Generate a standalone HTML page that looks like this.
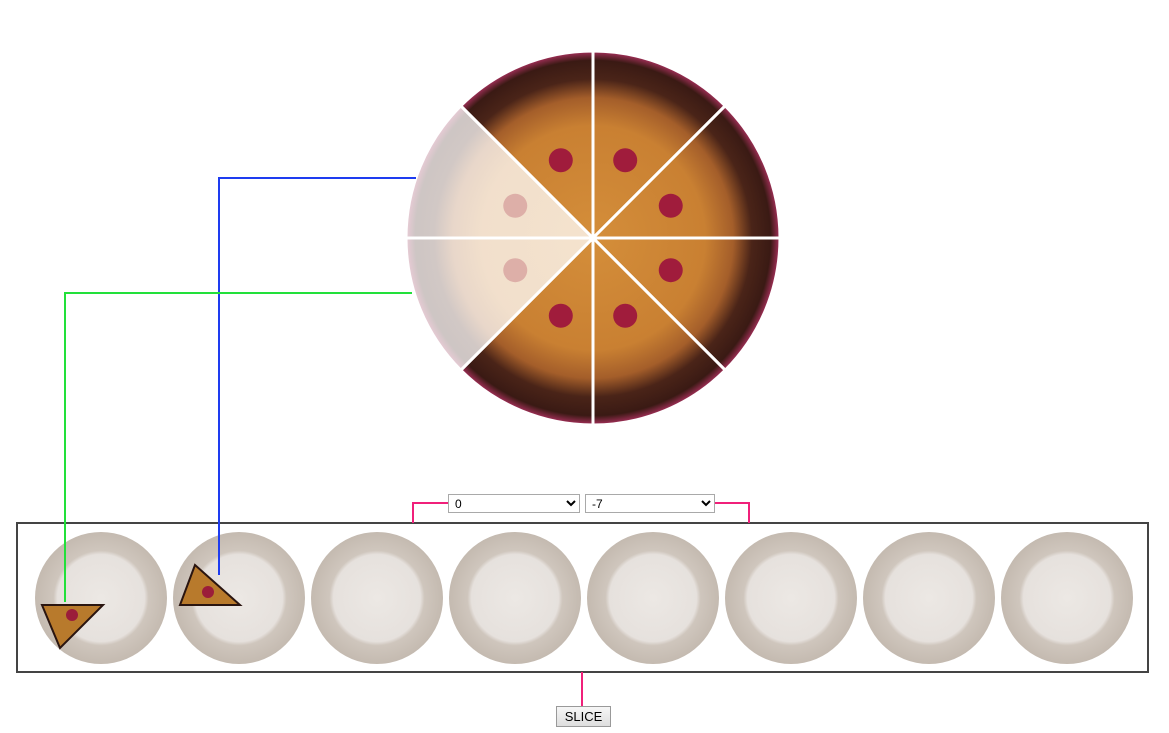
<!DOCTYPE html>
<html><head><meta charset="utf-8"><style>
body{margin:0;background:#fff;width:1169px;height:733px;position:relative;overflow:hidden;font-family:"Liberation Sans",sans-serif}
select{position:absolute;height:19px;font-size:12px;font-family:"Liberation Sans",sans-serif;border:1px solid #a9a9a9;background:#fff;padding:0 2px}
button{position:absolute;left:556px;top:706px;width:55px;height:21px;font-size:13px;font-family:"Liberation Sans",sans-serif;border:1px solid #999;background:linear-gradient(#f6f6f6,#dedede);padding:0}
</style></head><body>
<svg width="1169" height="733" style="position:absolute;left:0;top:0">
<defs>
<radialGradient id="cake" gradientUnits="userSpaceOnUse" cx="593" cy="238" r="187">
<stop offset="0" stop-color="#d48e3a"/><stop offset="0.6" stop-color="#c98032"/><stop offset="0.75" stop-color="#a45e2a"/><stop offset="0.85" stop-color="#4a2418"/><stop offset="0.95" stop-color="#3a1a14"/><stop offset="1" stop-color="#a8305c"/>
</radialGradient>
<radialGradient id="plate" cx="50%" cy="50%" r="50%">
<stop offset="0" stop-color="#ece8e4"/><stop offset="0.66" stop-color="#e6e1dd"/><stop offset="0.72" stop-color="#cfc6bd"/><stop offset="1" stop-color="#c4bab0"/>
</radialGradient>
</defs>
<g id="pie"></g>
<rect x="17" y="523" width="1131" height="149" fill="none" stroke="#444" stroke-width="2"/>
<g id="plates"></g>
<polygon points="42,605 103,605 60,648" fill="#b87a2c" stroke="#2a1510" stroke-width="2"/>
<circle cx="72" cy="615" r="6" fill="#9b1d3a"/>
<polygon points="195,565 240,605 180,605" fill="#b87a2c" stroke="#2a1510" stroke-width="2"/>
<circle cx="208" cy="592" r="6" fill="#9b1d3a"/>
<polyline points="416,178 219,178 219,575" fill="none" stroke="#1e3cf0" stroke-width="2"/>
<polyline points="412,293 65,293 65,602" fill="none" stroke="#22e03a" stroke-width="2"/>
<polyline points="448,503 413,503 413,523" fill="none" stroke="#f0207a" stroke-width="2"/>
<polyline points="715,503 749,503 749,523" fill="none" stroke="#f0207a" stroke-width="2"/>
<line x1="582" y1="672" x2="582" y2="706" stroke="#f0207a" stroke-width="2"/>
</svg>
<select style="left:448px;top:494px;width:132px"><option>0</option></select>
<select style="left:585px;top:494px;width:130px"><option>-7</option></select>
<button>SLICE</button>
<script>
const sliceOpacity=[1,1,1,1,1,0.25,0.25,1];
const plateCount=8;
const NS="http://www.w3.org/2000/svg";
const cx=593,cy=238,R=187;
const pie=document.getElementById('pie');
for(let i=0;i<sliceOpacity.length;i++){
  const a0=-Math.PI/2+i*Math.PI/4,a1=a0+Math.PI/4;
  const p=document.createElementNS(NS,'path');
  p.setAttribute('d',`M${cx},${cy}L${cx+R*Math.cos(a0)},${cy+R*Math.sin(a0)}A${R},${R} 0 0 1 ${cx+R*Math.cos(a1)},${cy+R*Math.sin(a1)}Z`);
  p.setAttribute('fill','url(#cake)');
  p.setAttribute('fill-opacity',sliceOpacity[i]);
  p.setAttribute('stroke','#fff');p.setAttribute('stroke-width','3');
  
  
  pie.appendChild(p);
  const am=(a0+a1)/2;
  const c=document.createElementNS(NS,'circle');
  c.setAttribute('cx',cx+R*0.45*Math.cos(am));c.setAttribute('cy',cy+R*0.45*Math.sin(am));
  c.setAttribute('r',12);c.setAttribute('fill','#a01c3c');c.setAttribute('fill-opacity',sliceOpacity[i]);
  
  
  pie.appendChild(c);
}
const plates=document.getElementById('plates');
for(let i=0;i<plateCount;i++){
  const px=101+i*138;
  const g=document.createElementNS(NS,'circle');
  g.setAttribute('cx',px);g.setAttribute('cy',598);g.setAttribute('r',66);g.setAttribute('fill','url(#plate)');
  
  
  plates.appendChild(g);
}
</script>
</body></html>
